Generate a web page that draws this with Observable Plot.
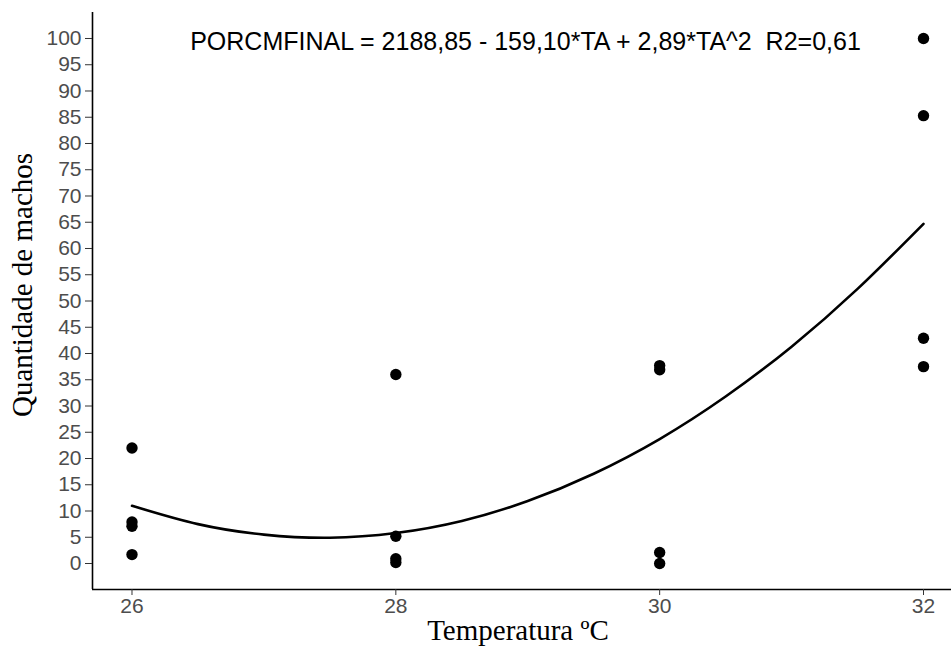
<!DOCTYPE html>
<html><head><meta charset="utf-8">
<script src="https://cdn.jsdelivr.net/npm/d3@7"></script>
<script src="https://cdn.jsdelivr.net/npm/@observablehq/plot@0.6"></script>
<style>body{margin:0;background:#fff}</style>
</head><body><div id="chart"></div>
<script>
const temps = [26,26,26,26, 28,28,28,28, 30,30,30,30, 32,32,32,32];
const machos = [22,7.9,7.1,1.7, 36,5.2,0.9,0.2, 37.7,36.9,2.1,0, 100,85.3,42.9,37.5];
const curveT = [26,26.5,27,27.5,28,28.5,29,29.5,30,30.5,31,31.5,32];
const curveY = [11.0,7.5,5.5,4.9,5.8,8.1,11.9,17.1,23.7,31.8,41.3,52.3,64.7];
const xTicks = [26,28,30,32];
const yTicks = [0,5,10,15,20,25,30,35,40,45,50,55,60,65,70,75,80,85,90,95,100];
const equation = "PORCMFINAL = 2188,85 - 159,10*TA + 2,89*TA^2  R2=0,61";

const pts = temps.map((t,i)=>({t, v: machos[i]}));
const curve = curveT.map((t,i)=>({t, v: curveY[i]}));
const sans = "Arial, 'Liberation Sans', sans-serif";
const serif = "'Liberation Serif', 'Times New Roman', serif";

const chart = Plot.plot({
  width: 951, height: 648,
  marginLeft: 92, marginRight: 0, marginTop: 12, marginBottom: 59,
  x: {domain: [25.7006, 32.2122]},
  y: {domain: [-4.95, 104.95]},
  style: {background: "#fff"},
  marks: [
    Plot.ruleX([25.7006], {stroke: "black", strokeWidth: 1.6}),
    Plot.ruleY([-4.95], {stroke: "black", strokeWidth: 1.6}),
    Plot.axisX({ticks: xTicks, tickFormat: d => String(d), tickSize: 6, tickPadding: 3, fontSize: 21, fontFamily: sans, color: "#4d4d4d", stroke: "#333", label: null}),
    Plot.axisY({ticks: yTicks, tickFormat: d => String(d), tickSize: 7, tickPadding: 4, fontSize: 21, fontFamily: sans, color: "#4d4d4d", stroke: "#333", label: null}),
    Plot.line(curve, {x: "t", y: "v", curve: "natural", stroke: "black", strokeWidth: 2.6}),
    Plot.dot(pts, {x: "t", y: "v", r: 5.7, fill: "black"})
  ]
});
const svg = d3.select(chart);
svg.append("text").attr("x", 525.5).attr("y", 50).attr("text-anchor","middle")
  .attr("font-family", sans).attr("font-size", 25).attr("fill","black").text(equation);
svg.append("text").attr("x", 518).attr("y", 640).attr("text-anchor","middle")
  .attr("font-family", serif).attr("font-size", 29).text("Temperatura ºC");
svg.append("text").attr("transform","translate(32,285) rotate(-90)").attr("text-anchor","middle")
  .attr("font-family", serif).attr("font-size", 29).text("Quantidade de machos");
document.getElementById("chart").appendChild(chart);
</script>
</body></html>
